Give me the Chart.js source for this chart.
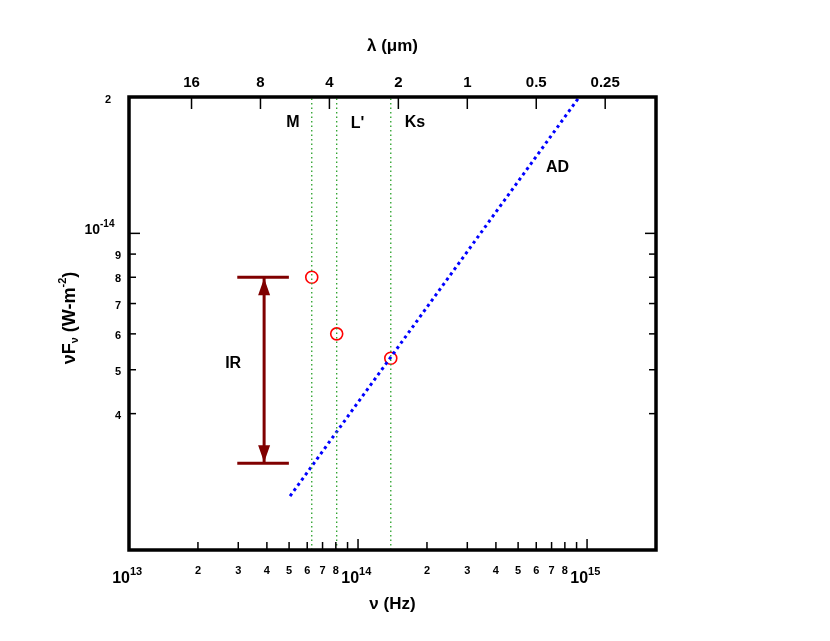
<!DOCTYPE html>
<html>
<head>
<meta charset="utf-8">
<script src="https://cdn.jsdelivr.net/npm/chart.js@4.4.1/dist/chart.umd.min.js"></script>
<style>
  html, body { margin: 0; padding: 0; background: #fff; }
  canvas { display: block; }
</style>
</head>
<body>
<canvas id="sed" width="830" height="641"></canvas>
<script>
// observed points (M, L', Ks)
const bandNames = ['M', "L'", 'Ks'];
const bandFreq = [6.28e13, 8.07e13, 1.39e14];
const bandFlux = [8.0e-15, 6.0e-15, 5.3e-15];

// accretion disk model line
const adFreq = [5.05e13, 9.25e14];
const adFlux = [2.63e-15, 2.0e-14];

// IR excess arrow
const irFreq = [3.89e13, 3.89e13];
const irFlux = [8.0e-15, 3.11e-15];
const irCapFreq = [2.97e13, 4.99e13];

// axes
const freqMin = 1e13, freqMax = 2e15;
const fluxMin = 2e-15, fluxMax = 2e-14;
const freqDecades = [13, 14, 15];
const freqMult = [2, 3, 4, 5, 6, 7, 8, 9];
const freqMultLabels = ['2', '3', '4', '5', '6', '7', '8'];
const lambdaTicks = [16, 8, 4, 2, 1, 0.5, 0.25];
const fluxTicks = [1e-14, 9e-15, 8e-15, 7e-15, 6e-15, 5e-15, 4e-15];
const fluxTickLabels = ['10', '9', '8', '7', '6', '5', '4'];
const fluxTopLabel = '2';

// text labels on the plot
const notes = [
    { text: 'M', x: 5.2e13, y: 1.76e-14 },
    { text: "L'", x: 9.95e13, y: 1.748e-14 },
    { text: 'Ks', x: 1.774e14, y: 1.76e-14 },
    { text: 'AD', x: 7.43e14, y: 1.397e-14 },
    { text: 'IR', x: 2.85e13, y: 5.16e-15 },
];

const C_UM = 3e14; // speed of light in micron/s
const FONT = '"Liberation Sans", Arial, Helvetica, sans-serif';
const bold = (s) => 'bold ' + s + 'px ' + FONT;
const darkRed = 'rgb(128,0,0)';

const bandLines = bandFreq.map((f) => ({
    data: [{ x: f, y: fluxMin }, { x: f, y: fluxMax }],
    showLine: true,
    borderColor: 'rgb(40,160,40)',
    borderWidth: 1.3,
    borderDash: [1.5, 3],
    pointRadius: 0,
}));

const sedPlugin = {
    id: 'sedFrame',
    afterDatasetsDraw(chart) {
        const ctx = chart.ctx;
        const a = chart.chartArea;
        const xs = chart.scales.x, ys = chart.scales.y;
        ctx.save();

        // arrow heads for IR
        const ax = xs.getPixelForValue(irFreq[0]);
        const yTop = ys.getPixelForValue(irFlux[0]);
        const yBot = ys.getPixelForValue(irFlux[1]);
        ctx.fillStyle = darkRed;
        [[yTop, 1], [yBot, -1]].forEach(([yy, dir]) => {
            ctx.beginPath();
            ctx.moveTo(ax, yy + dir * 1);
            ctx.lineTo(ax - 6, yy + dir * 18);
            ctx.lineTo(ax + 6, yy + dir * 18);
            ctx.closePath();
            ctx.fill();
        });

        // notes
        ctx.fillStyle = '#000';
        ctx.textAlign = 'center';
        ctx.textBaseline = 'middle';
        ctx.font = bold(16);
        notes.forEach((n) => {
            ctx.fillText(n.text, xs.getPixelForValue(n.x), ys.getPixelForValue(n.y));
        });

        // ticks
        ctx.strokeStyle = '#000';
        ctx.lineWidth = 1.5;
        const line = (x1, y1, x2, y2) => {
            ctx.beginPath(); ctx.moveTo(x1, y1); ctx.lineTo(x2, y2); ctx.stroke();
        };

        // bottom (frequency)
        freqDecades.forEach((d) => {
            const base = Math.pow(10, d);
            const px = xs.getPixelForValue(base);
            if (base > freqMin && base < freqMax) line(px, a.bottom, px, a.bottom - 11);
            ctx.font = bold(16);
            ctx.textAlign = 'right';
            ctx.fillText('10', px + 1, 579);
            ctx.font = bold(11);
            ctx.textAlign = 'left';
            ctx.fillText(String(d), px + 1, 572);
            freqMult.forEach((m, i) => {
                const v = m * base;
                if (v <= freqMin || v >= freqMax) return;
                const p = xs.getPixelForValue(v);
                line(p, a.bottom, p, a.bottom - 8);
                if (freqMultLabels[i]) {
                    ctx.font = bold(11);
                    ctx.textAlign = 'center';
                    ctx.fillText(freqMultLabels[i], p, 571);
                }
            });
        });

        // top (wavelength)
        lambdaTicks.forEach((l) => {
            const p = xs.getPixelForValue(C_UM / l);
            line(p, a.top, p, a.top + 12);
            ctx.font = bold(15);
            ctx.textAlign = 'center';
            ctx.fillText(String(l), p, 83);
        });

        // left / right (flux)
        fluxTicks.forEach((v, i) => {
            const p = ys.getPixelForValue(v);
            const len = i === 0 ? 11 : 7;
            line(a.left, p, a.left + len, p);
            line(a.right, p, a.right - len, p);
            if (i === 0) {
                ctx.font = bold(14);
                ctx.textAlign = 'right';
                ctx.fillText(fluxTickLabels[i], 100, p - 3);
                ctx.font = bold(10);
                ctx.textAlign = 'left';
                ctx.fillText('-14', 100, p - 9);
            } else {
                ctx.font = bold(11);
                ctx.textAlign = 'right';
                ctx.fillText(fluxTickLabels[i], 121, p + 2);
            }
        });
        ctx.font = bold(11);
        ctx.textAlign = 'right';
        ctx.fillText(fluxTopLabel, 111, ys.getPixelForValue(fluxMax) + 3);

        // frame
        ctx.lineWidth = 3.5;
        ctx.strokeRect(a.left, a.top, a.right - a.left, a.bottom - a.top);

        // axis titles
        ctx.font = bold(17);
        ctx.textAlign = 'center';
        ctx.fillText('\u03bb (\u03bcm)', (a.left + a.right) / 2, 46);
        ctx.fillText('\u03bd (Hz)', (a.left + a.right) / 2, 604);

        // y title with sub/superscript, rotated
        ctx.translate(70, 318);
        ctx.rotate(-Math.PI / 2);
        const runs = [
            ['\u03bdF', 18, 0],
            ['\u03bd', 11, 5],
            [' (W-m', 18, 0],
            ['-2', 11, -7],
            [')', 18, 0],
        ];
        let total = 0;
        runs.forEach((r) => { ctx.font = bold(r[1]); total += ctx.measureText(r[0]).width; });
        let cx = -total / 2;
        ctx.textAlign = 'left';
        runs.forEach((r) => {
            ctx.font = bold(r[1]);
            ctx.fillText(r[0], cx, r[2]);
            cx += ctx.measureText(r[0]).width;
        });
        ctx.restore();
    }
};

new Chart(document.getElementById('sed').getContext('2d'), {
    type: 'scatter',
    data: {
        datasets: [
            ...bandLines,
            {
                label: 'AD',
                data: adFreq.map((f, i) => ({ x: f, y: adFlux[i] })),
                showLine: true,
                borderColor: 'rgb(0,0,255)',
                borderWidth: 3,
                borderDash: [3, 3.5],
                pointRadius: 0,
            },
            {
                label: 'IR',
                data: irFreq.map((f, i) => ({ x: f, y: irFlux[i] })),
                showLine: true,
                borderColor: darkRed,
                borderWidth: 3,
                pointRadius: 0,
            },
            ...irFlux.map((v) => ({
                data: irCapFreq.map((f) => ({ x: f, y: v })),
                showLine: true,
                borderColor: darkRed,
                borderWidth: 3,
                pointRadius: 0,
            })),
            {
                label: 'bands',
                data: bandFreq.map((f, i) => ({ x: f, y: bandFlux[i] })),
                showLine: false,
                pointRadius: 6,
                pointBorderWidth: 1.6,
                pointBorderColor: 'rgb(255,0,0)',
                pointBackgroundColor: 'rgba(0,0,0,0)',
            },
        ]
    },
    options: {
        responsive: false,
        animation: false,
        layout: {
            padding: { left: 129, right: 174, top: 97, bottom: 91 }
        },
        plugins: {
            legend: { display: false },
            tooltip: { enabled: false },
        },
        scales: {
            x: { type: 'logarithmic', min: freqMin, max: freqMax, display: false },
            y: { type: 'logarithmic', min: fluxMin, max: fluxMax, display: false },
        }
    },
    plugins: [sedPlugin]
});
</script>
</body>
</html>
